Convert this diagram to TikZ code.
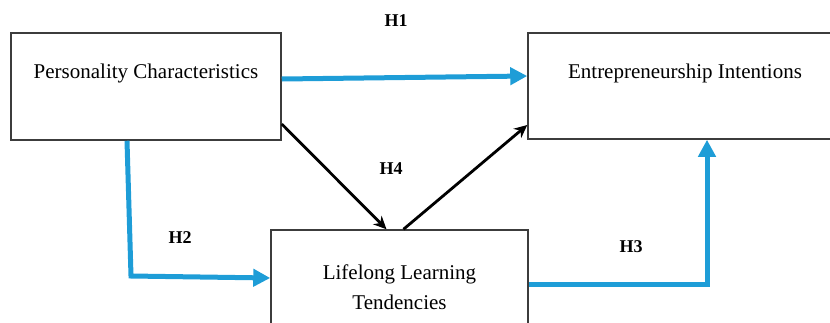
\documentclass[tikz,border=0pt]{standalone}
\usepackage{fontspec}
\setmainfont{Liberation Serif}
\usetikzlibrary{calc,arrows.meta}
\definecolor{arrowblue}{RGB}{30,157,215}
\definecolor{boxgray}{RGB}{60,60,60}
\tikzset{
  box/.style={draw=boxgray,line width=1.5pt,rectangle,inner sep=0pt},
  txt/.style={font=\fontsize{21}{30}\selectfont,align=center,inner sep=0pt},
  hlab/.style={font=\fontsize{18}{20}\selectfont\bfseries,inner sep=0pt},
  bluearrow/.style={draw=arrowblue,line width=5pt,-{Triangle[length=17pt,width=17pt]}},
  blackarrow/.style={draw=black,line width=2.8pt,-{Stealth[length=13pt,width=12pt]}}
}
\begin{document}
\begin{tikzpicture}[x=1pt,y=-1pt]
\useasboundingbox (0,0) rectangle (830,322);
\clip (0,0) rectangle (830,322);
\node[box,minimum width=270pt,minimum height=107pt] (pc) at (146,86.5) {};
\node[box,minimum width=314pt,minimum height=106pt] (ei) at (685,86) {};
\node[box,minimum width=257pt,minimum height=110pt] (lt) at (399.5,285) {};
\node[txt] (pct) at (146,73) {Personality Characteristics};
\node[txt] (eit) at (685,73) {Entrepreneurship Intentions};
\node[txt] (ltt) at (399.5,287) {Lifelong Learning\\Tendencies};
\coordinate (c2) at (131,276);
\coordinate (c3) at (707,284);
\draw[bluearrow] ($(pc.east)+(0,-7.5)$) -- ($(ei.west)+(0,-10)$);
\draw[bluearrow] ($(pc.south)+(-19,0)$) -- (c2) -- ($(lt.west)+(0,-7)$);
\draw[bluearrow] (lt.east |- c3) -- (c3) -- (c3 |- ei.south);
\draw[blackarrow] ($(pc.east)+(0,37.5)$) -- ($(lt.north)+(-13,0)$);
\draw[blackarrow] ($(lt.north)+(4,0)$) -- ($(ei.west)+(0,39)$);
\node[hlab] (h1) at (396,21) {H1};
\node[hlab] (h2) at (180,238) {H2};
\node[hlab] (h3) at (631,247) {H3};
\node[hlab] (h4) at (391,169) {H4};
\end{tikzpicture}
\end{document}
